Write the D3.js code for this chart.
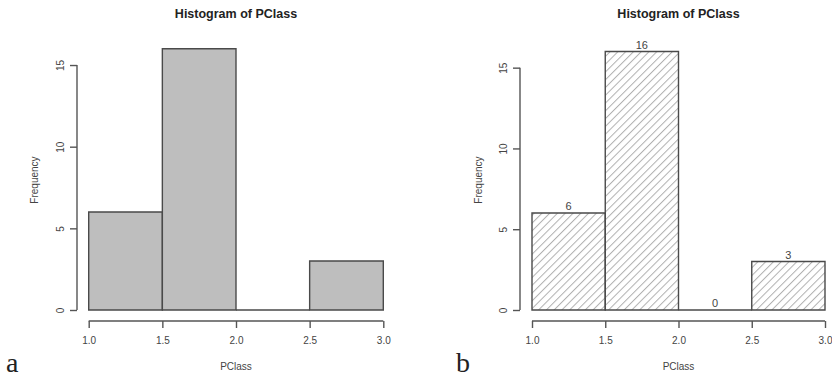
<!DOCTYPE html>
<html>
<head>
<meta charset="utf-8">
<script src="https://cdn.jsdelivr.net/npm/d3@7"></script>
<style>
  body { margin: 0; background: #fff; }
  svg text { font-family: "Liberation Sans", Arial, sans-serif; }
  svg text.panel { font-family: "Liberation Serif", "Times New Roman", serif; }
</style>
</head>
<body>
<div id="container"></div>
<script>
// histogram of PClass, same data drawn twice
var breaks = [1.0, 1.5, 2.0, 2.5, 3.0];
var counts = [6, 16, 0, 3];
var xTicks = [1.0, 1.5, 2.0, 2.5, 3.0];
var yTicks = [0, 5, 10, 15];

var svg = d3.select("#container").append("svg")
    .attr("width", 832).attr("height", 377);

// hatch pattern for panel b
var defs = svg.append("defs");
defs.append("pattern")
    .attr("id", "hatch")
    .attr("patternUnits", "userSpaceOnUse")
    .attr("width", 5.5).attr("height", 5.5)
    .attr("patternTransform", "rotate(45)")
  .append("line")
    .attr("x1", 0.5).attr("y1", 0).attr("x2", 0.5).attr("y2", 5.5)
    .attr("stroke", "#b0b0b0").attr("stroke-width", 1);

var bins = counts.map(function(c, i) { return {x0: breaks[i], x1: breaks[i + 1], n: c}; });

function drawPanel(p) {
  var x = d3.scaleLinear().domain([1, 3]).range([p.x0, p.x1]);
  var y = d3.scaleLinear().domain([0, 16]).range([310, p.top]);
  var g = svg.append("g");

  // paths so the empty bin still shows its bottom edge
  g.selectAll("path.bar")
    .data(bins)
    .enter().append("path")
      .attr("class", "bar")
      .attr("d", function(d) {
        return "M" + x(d.x0) + "," + y(0) + "V" + y(d.n) + "H" + x(d.x1) + "V" + y(0) + "Z";
      })
      .attr("fill", p.fill)
      .attr("stroke", "#4a4a4a")
      .attr("stroke-width", 1.4);

  if (p.labels) {
    g.selectAll("text.lab")
      .data(bins)
      .enter().append("text")
        .attr("class", "lab")
        .attr("x", function(d) { return x((d.x0 + d.x1) / 2); })
        .attr("y", function(d) { return y(d.n) - 3; })
        .attr("text-anchor", "middle")
        .attr("font-size", 11)
        .attr("fill", "#444")
        .text(function(d) { return d.n; });
  }

  // x axis, R style
  var xa = g.append("g")
      .attr("transform", "translate(0,321)")
      .call(d3.axisBottom(x).tickValues(xTicks).tickFormat(d3.format(".1f")).tickSizeOuter(0).tickSize(7).tickPadding(9));
  xa.select(".domain").attr("stroke", "#555").attr("stroke-width", 1.4)
      .attr("d", "M" + x(1) + ",0H" + x(3));
  xa.selectAll(".tick line").attr("stroke", "#555").attr("stroke-width", 1.4);
  xa.selectAll(".tick text").attr("font-size", 10).attr("fill", "#444");

  // y axis
  var ya = g.append("g")
      .attr("transform", "translate(" + p.yAxisX + ",0)")
      .call(d3.axisLeft(y).tickValues(yTicks).tickSizeOuter(0).tickSize(7));
  ya.select(".domain").attr("stroke", "#555").attr("stroke-width", 1.4)
      .attr("d", "M0," + y(0) + "V" + y(15));
  ya.selectAll(".tick line").attr("stroke", "#555").attr("stroke-width", 1.4);
  ya.selectAll(".tick text")
      .attr("font-size", 10).attr("fill", "#444")
      .attr("text-anchor", "middle")
      .attr("x", 0).attr("dy", 0)
      .attr("transform", "translate(-13,0) rotate(-90)");

  g.append("text")
      .attr("x", (p.x0 + p.x1) / 2).attr("y", 18)
      .attr("text-anchor", "middle")
      .attr("font-size", 12.5).attr("font-weight", "bold")
      .attr("fill", "#222")
      .text("Histogram of PClass");

  g.append("text")
      .attr("x", (p.x0 + p.x1) / 2).attr("y", 370)
      .attr("text-anchor", "middle")
      .attr("font-size", 10).attr("fill", "#444")
      .text("PClass");

  g.append("text")
      .attr("transform", "translate(" + p.freqX + ",180) rotate(-90)")
      .attr("text-anchor", "middle")
      .attr("font-size", 10).attr("fill", "#444")
      .text("Frequency");

  g.append("text")
      .attr("class", "panel")
      .attr("x", p.letterX).attr("y", 372)
      .attr("font-size", 28).attr("fill", "#222")
      .text(p.letter);
}

drawPanel({x0: 88.7, x1: 383.3, top: 48.7, yAxisX: 77, freqX: 38, fill: "#bebebe", labels: false, letter: "a", letterX: 6});
drawPanel({x0: 532, x1: 825, top: 51.5, yAxisX: 520, freqX: 482, fill: "url(#hatch)", labels: true, letter: "b", letterX: 456});
</script>
</body>
</html>
